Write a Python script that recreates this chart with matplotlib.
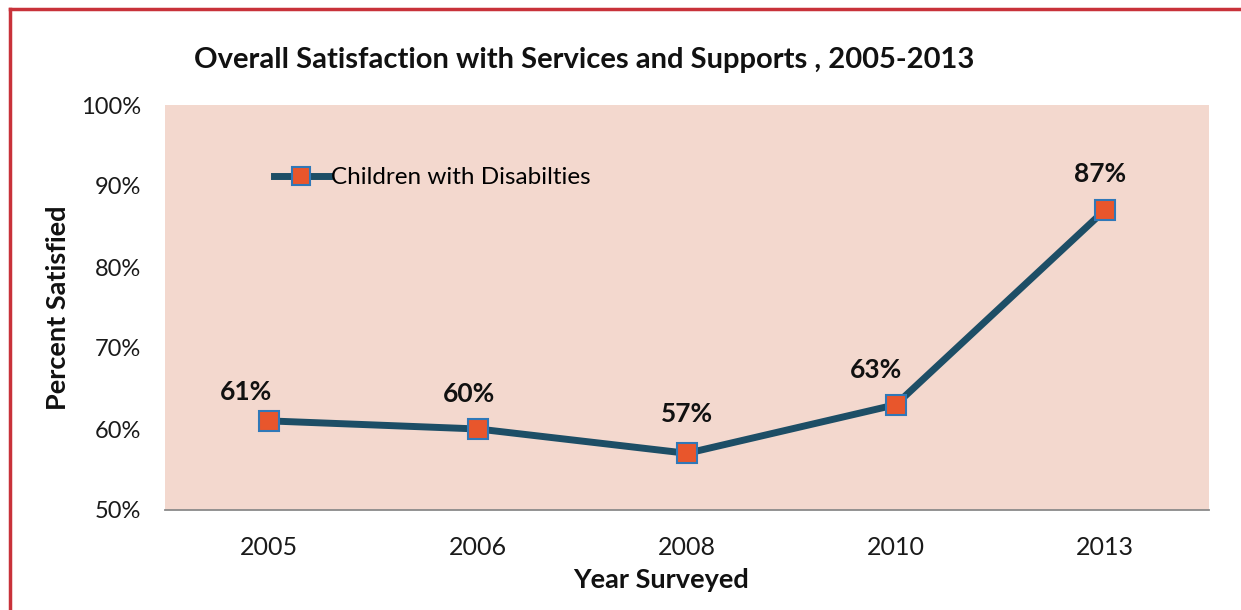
import matplotlib.pyplot as plt
from matplotlib.lines import Line2D

plt.rcParams['font.family'] = ['Lato', 'DejaVu Sans']

years = ['2005', '2006', '2008', '2010', '2013']
satisfied = [61, 60, 57, 63, 87]
series_name = 'Children with Disabilties'
y_ticks = [50, 60, 70, 80, 90, 100]

# where the value labels sit relative to their marker (pixels)
label_offsets = [(-23, 29), (-9, 35), (0, 39), (-20, 35), (-5, 36)]

fig = plt.figure(figsize=(12.41, 6.10), dpi=100)
ax = fig.add_axes([165 / 1241, 1 - 510 / 610, (1209 - 165) / 1241, (510 - 105) / 610])
ax.set_facecolor('#f3d8ce')

x = range(len(years))
ax.plot(x, satisfied, color='#1d4e66', linewidth=5, marker='s', markersize=15,
        markerfacecolor='#e8562c', markeredgecolor='#2f78b8', markeredgewidth=1.5,
        label=series_name, zorder=3)

for i, v in enumerate(satisfied):
    ax.annotate(f'{v}%', (i, v), xytext=label_offsets[i], textcoords='offset pixels',
                ha='center', va='center', fontsize=19, fontweight='bold', color='#111111')

ax.set_xlim(-0.5, len(years) - 0.5)
ax.set_ylim(50, 100)
ax.set_xticks(list(x))
ax.set_xticklabels(years, fontsize=18, color='#1a1a1a')
ax.set_yticks(y_ticks)
ax.set_yticklabels([f'{t}%' for t in y_ticks], fontsize=17, color='#1a1a1a')
ax.tick_params(length=0)
ax.tick_params(axis='y', pad=17)
ax.tick_params(axis='x', pad=19)

for s in ['top', 'right', 'left']:
    ax.spines[s].set_visible(False)
ax.spines['bottom'].set_color('#8a8a8a')
ax.spines['bottom'].set_linewidth(1.3)

ax.text((661 - 165) / 1044, -(580 - 510) / 405, 'Year Surveyed', transform=ax.transAxes,
        ha='center', va='center', fontsize=19.5, fontweight='bold', color='#111111')
ax.text((58 - 165) / 1044, 0.5, 'Percent Satisfied', transform=ax.transAxes, rotation=90,
        ha='center', va='center', fontsize=19.5, fontweight='bold', color='#111111')

fig.text(584 / 1241, 1 - 60 / 610, 'Overall Satisfaction with Services and Supports , 2005-2013',
         ha='center', va='center', fontsize=21, fontweight='bold', color='#111111')

ax.legend(loc='center left', bbox_to_anchor=(0.083, 0.82), frameon=False,
          fontsize=17.5, handlelength=2.3, handletextpad=0.05, markerscale=0.85)

# red frame (top and left edges of the scanned chart box)
fig.add_artist(Line2D([10 / 1241, 1], [1 - 9 / 610, 1 - 9 / 610], transform=fig.transFigure,
                      color='#c8323a', linewidth=2.5))
fig.add_artist(Line2D([10 / 1241, 10 / 1241], [0, 1 - 9 / 610], transform=fig.transFigure,
                      color='#c8323a', linewidth=2.5))

fig.savefig('out.png', dpi=100)
